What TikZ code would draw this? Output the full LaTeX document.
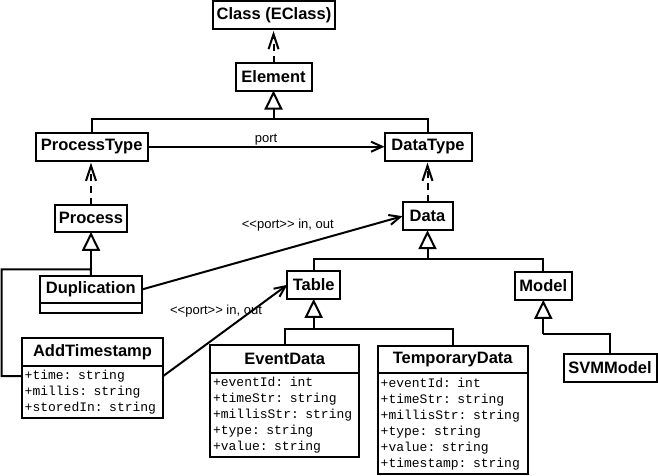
\documentclass[tikz,border=0pt]{standalone}
\usepackage{fontspec}
\setmainfont{Liberation Sans}
\setmonofont{Liberation Mono}
\usetikzlibrary{arrows.meta,positioning}

\begin{document}
\begin{tikzpicture}[x=1pt,y=-1pt,line width=2pt,
  cls/.style={draw,fill=white,font=\bfseries\fontsize{16.5}{18}\selectfont,inner sep=0pt,outer sep=0pt,minimum height=28pt},
  attrs/.style={draw,fill=white,font=\ttfamily\fontsize{13}{16}\selectfont,align=left,inner xsep=3pt,inner ysep=0pt,outer sep=0pt},
  lbl/.style={font=\fontsize{13}{15}\selectfont,inner sep=1pt},
  assoc/.style={-{Straight Barb[length=11pt,width=10pt]}},
  dep/.style={dash pattern=on 7pt off 5pt,shorten >=2pt,-{Straight Barb[length=15pt,width=10pt]}},
  gen/.style={-{Triangle[fill=white,length=19pt,width=18pt]}}]
\useasboundingbox (0,0) rectangle (658,475);
\node[cls,minimum width=122pt] (eclass) at (274,15) {Class (EClass)};
\node[cls,minimum width=76pt] (element) at (273.5,76.5) {Element};
\node[cls,minimum width=112pt] (ptype) at (91.7,146.7) {ProcessType};
\node[cls,minimum width=87pt] (dtype) at (428,146.7) {DataType};
\node[cls,minimum width=72pt,minimum height=27pt] (process) at (91,218.3) {Process};
\node[cls,minimum width=50pt] (data) at (427.5,216.2) {Data};
\node[cls,minimum width=102pt,minimum height=27pt] (dup) at (90.8,289.5) {Duplication};
\node[attrs,minimum width=102pt,minimum height=9.7pt,below=0pt of dup] (dupA) {};
\node[cls,minimum width=141.6pt] (addts) at (92.5,351.8) {AddTimestamp};
\node[attrs,text width=135.6pt,minimum height=52pt,below=0pt of addts] (addtsA)
  {+time: string\\+millis: string\\+storedIn: string};
\node[cls,minimum width=52.7pt] (table) at (313.7,284.8) {Table};
\node[cls,minimum width=56.7pt] (model) at (543.3,285.8) {Model};
\node[cls,minimum width=149.3pt] (event) at (284.7,359.2) {EventData};
\node[attrs,text width=143.3pt,minimum height=83.3pt,below=0pt of event] (eventA)
  {+eventId: int\\+timeStr: string\\+millisStr: string\\+type: string\\+value: string};
\node[cls,minimum width=150pt,minimum height=27.3pt] (tmpdata) at (452.7,359.7) {TemporaryData};
\node[attrs,text width=144pt,minimum height=100.7pt,below=0pt of tmpdata] (tmpdataA)
  {+eventId: int\\+timeStr: string\\+millisStr: string\\+type: string\\+value: string\\+timestamp: string};
\node[cls,minimum width=93pt] (svm) at (610,367.5) {SVMModel};

\draw[dep] (element.north) -- (element.north |- eclass.south);
\coordinate (topJ) at (273.5,119.3);
\draw (ptype.north) |- (topJ) -| (dtype.north);
\draw[gen] (topJ) -- (element.south);
\draw[assoc] (ptype) -- node[lbl,above]{port} (dtype);
\draw[dep] (process.north) -- (process.north |- ptype.south);
\draw[dep] (data.north) -- (data.north |- dtype.south);
\coordinate (procJ) at (91,269.3);
\coordinate (leftJ) at (1.5,376);
\draw (dup.north) -- (procJ) -| (leftJ) -- (leftJ -| addtsA.west);
\draw[gen] (procJ) -- (process.south);
\draw[assoc] (dup.east) -- node[lbl,pos=0.56,yshift=23pt]{<{}<port>{}> in, out} (data.west);
\draw[assoc] (leftJ -| addtsA.east) -- node[lbl,pos=0.425,yshift=26.5pt]{<{}<port>{}> in, out} (table.west);
\coordinate (dataJ) at (427.5,258.5);
\draw (table.north) |- (dataJ) -| (model.north);
\draw[gen] (dataJ) -- (data.south);
\coordinate (tableJ) at (313.7,329.3);
\draw (event.north) |- (tableJ) -| (tmpdata.north);
\draw[gen] (tableJ) -- (table.south);
\coordinate (modelJ) at (543.3,334);
\draw (svm.north) |- (modelJ);
\draw[gen] (modelJ) -- (model.south);
\end{tikzpicture}
\end{document}
